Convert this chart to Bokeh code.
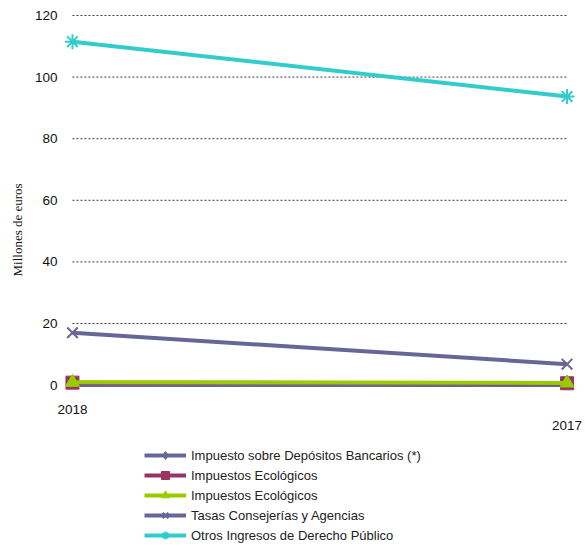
from bokeh.plotting import figure
from bokeh.models import FixedTicker, Range1d, Legend, LegendItem, Title, Label
from bokeh.embed import file_html
from bokeh.resources import INLINE

# ---- data ----
years = ["2018", "2017"]
depositos = [0.0, 0.0]
ecologicos_a = [0.8, 0.6]
ecologicos_b = [0.9, 0.7]
tasas = [17.0, 6.8]
otros = [111.5, 93.7]
y_ticks = [0, 20, 40, 60, 80, 100, 120]

names = ["Impuesto sobre Depósitos Bancarios (*)", "Impuestos Ecológicos",
         "Impuestos Ecológicos", "Tasas Consejerías y Agencias",
         "Otros Ingresos de Derecho Público"]
series = [depositos, ecologicos_a, ecologicos_b, tasas, otros]
colors = ["#666699", "#993366", "#99CC00", "#666699", "#33CCCC"]
markers = ["diamond", "square", "triangle", "x", "asterisk"]
msizes = [7, 13, 14, 15, 15]

xs = list(range(len(years)))

p = figure(width=585, height=548, output_backend="svg", toolbar_location=None,
           x_range=Range1d(-0.0424, 1.0373), y_range=Range1d(-53.05, 121.62),
           min_border_left=50, min_border_right=0,
           min_border_top=10, min_border_bottom=0)
p.outline_line_color = None
p.xgrid.visible = False
p.ygrid.visible = False
p.xaxis.visible = False

# dotted grid lines spanning the category extent
grid_y = [t for t in y_ticks if t > 0]
p.segment(x0=[xs[0]] * len(grid_y), x1=[xs[-1]] * len(grid_y), y0=grid_y, y1=grid_y,
          line_color="#3a3a3a", line_width=1, line_dash="2 2")

# y axis
ya = p.yaxis[0]
ya.ticker = FixedTicker(ticks=y_ticks)
ya.axis_line_color = None
ya.major_tick_line_color = None
ya.minor_tick_line_color = None
ya.major_tick_out = 0
ya.major_tick_in = 0
ya.major_label_standoff = -6
ya.major_label_text_font = "Liberation Sans"
ya.major_label_text_font_size = "13.5px"
ya.major_label_text_color = "#111111"

# staggered category labels
for xv, lab, dy in zip(xs, years, [-24, -40]):
    p.add_layout(Label(x=xv, y=0, text=lab, y_offset=dy,
                       text_align="center", text_baseline="middle",
                       text_font="Liberation Sans", text_font_size="13.5px",
                       text_color="#111111"))

# y axis title
p.add_layout(Title(text="Millones de euros", align="left", offset=272, standoff=14,
                   text_font="Liberation Serif", text_font_size="13px",
                   text_font_style="normal", text_color="#111111"), "left")

items = []
for name, vals, c, m, s in zip(names, series, colors, markers, msizes):
    ln = p.line(xs, vals, line_color=c, line_width=4)
    if m in ("x", "asterisk"):
        sc = p.scatter(xs, vals, marker=m, size=s, line_color=c, line_width=2)
    else:
        sc = p.scatter(xs, vals, marker=m, size=s, fill_color=c, line_color=c)
    items.append(LegendItem(label=name, renderers=[ln, sc]))

legend = Legend(items=items, location=(93, 3), orientation="vertical",
                border_line_color=None, background_fill_alpha=0,
                label_text_font="Liberation Sans", label_text_font_size="13px",
                label_text_color="#222222", glyph_width=42, glyph_height=20,
                label_height=20, spacing=0, padding=0, margin=0,
                label_standoff=5)
p.add_layout(legend, "center")

open("out.html", "w").write(file_html(p, INLINE))
